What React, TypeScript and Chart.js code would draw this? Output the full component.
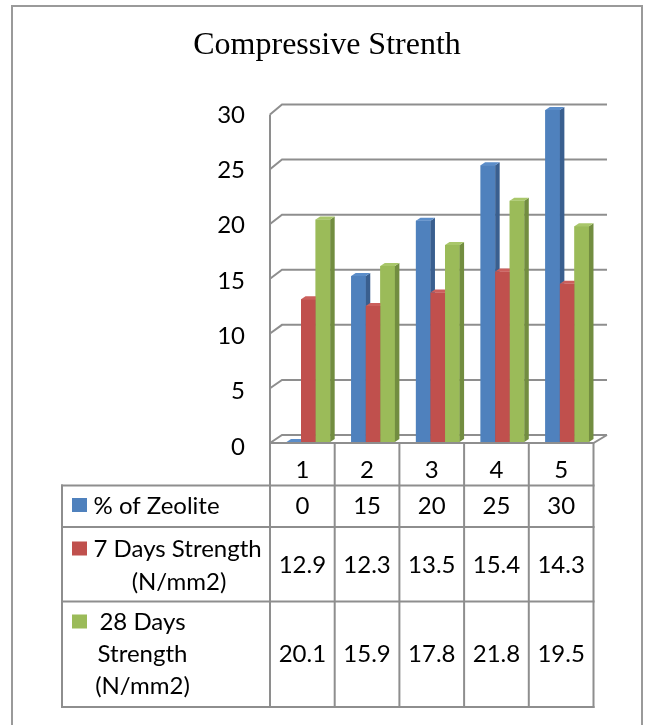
import React, { useEffect, useRef } from 'react';
import { Chart, registerables } from 'chart.js';

Chart.register(...registerables);

// ---- data ----
const chartTitle = 'Compressive Strenth';
const categories = ['1', '2', '3', '4', '5'];
const zeolitePercent = [0, 15, 20, 25, 30];
const strength7Days = [12.9, 12.3, 13.5, 15.4, 14.3];
const strength28Days = [20.1, 15.9, 17.8, 21.8, 19.5];
const seriesNames = ['% of Zeolite', '7 Days Strength (N/mm2)', '28 Days Strength (N/mm2)'];
const seriesDecimals = [0, 1, 1];
const rowLabelLines = [['% of Zeolite'], ['7 Days Strength', '(N/mm2)'], ['28 Days', 'Strength', '(N/mm2)']];
const yMin = 0;
const yMax = 30;
const yStep = 5;

// ---- styles ----
const FONT = 'Lato, "Open Sans", sans-serif';
const TITLE_FONT = '"Liberation Serif", "Times New Roman", serif';
const LINE = '#8e8e8e';
const FRONT = ['#4F81BD', '#C0504D', '#9BBB59'];
const SIDE = ['#3A5F8F', '#913B38', '#728D40'];
const TOP = ['#5B8DC9', '#CB5F5C', '#A9C76A'];
const DX = 4.5;
const DY = 3;

function line(ctx: CanvasRenderingContext2D, pts: number[][]) {
  ctx.beginPath();
  ctx.moveTo(pts[0][0], pts[0][1]);
  for (let i = 1; i < pts.length; i++) ctx.lineTo(pts[i][0], pts[i][1]);
  ctx.stroke();
}

function poly(ctx: CanvasRenderingContext2D, pts: number[][]) {
  ctx.beginPath();
  ctx.moveTo(pts[0][0], pts[0][1]);
  for (let i = 1; i < pts.length; i++) ctx.lineTo(pts[i][0], pts[i][1]);
  ctx.closePath();
  ctx.fill();
}

const columnChart3D = {
  id: 'columnChart3D',
  beforeDraw(chart: any) {
    const ctx: CanvasRenderingContext2D = chart.ctx;
    ctx.save();
    ctx.fillStyle = '#ffffff';
    ctx.fillRect(0, 0, chart.width, chart.height);
    // frame
    ctx.strokeStyle = '#9a9a9a';
    ctx.lineWidth = 2;
    ctx.strokeRect(12, 6, 630, 760);
    // title
    ctx.fillStyle = '#000';
    ctx.font = `32px ${TITLE_FONT}`;
    ctx.textAlign = 'center';
    ctx.textBaseline = 'alphabetic';
    ctx.fillText(chartTitle, 327, 54);
    ctx.restore();
  },
  beforeDatasetsDraw(chart: any) {
    // walls and floor
    const ctx: CanvasRenderingContext2D = chart.ctx;
    const ca = chart.chartArea;
    const ys = chart.scales.y;
    const w = (ca.right - ca.left) / categories.length;
    const back = (v: number) => ys.getPixelForValue(v) - 7 + 0.05 * v;
    const front = (v: number) => ys.getPixelForValue(v) + 1 + 0.12 * v;
    const fxL = ca.left - 6;
    const bxL = ca.left + 6;
    const bxR = ca.right + 7.5;
    const fxR = ca.left - 6 + categories.length * w;
    ctx.save();
    ctx.strokeStyle = LINE;
    ctx.lineWidth = 2;
    for (let v = yMin; v <= yMax; v += yStep) {
      line(ctx, [[fxL, front(v)], [bxL, back(v)], [bxR, back(v)]]);
    }
    line(ctx, [[fxL, front(yMax)], [fxL, front(yMin)]]);
    line(ctx, [[fxL, front(yMin)], [fxR, front(yMin)], [bxR, back(yMin)]]);
    ctx.restore();
  },
  afterDatasetsDraw(chart: any) {
    // bar faces, series by series so later fronts cover earlier sides
    const ctx: CanvasRenderingContext2D = chart.ctx;
    ctx.save();
    chart.data.datasets.forEach((_ds: any, di: number) => {
      const meta = chart.getDatasetMeta(di);
      meta.data.forEach((el: any) => {
        const { x, y, base, width } = el.getProps(['x', 'y', 'base', 'width'], true);
        const l = x - width / 2;
        const r = x + width / 2;
        const top = Math.min(y, base);
        const bot = Math.max(y, base);
        ctx.fillStyle = FRONT[di];
        ctx.fillRect(l, top, width, bot - top);
        ctx.fillStyle = SIDE[di];
        poly(ctx, [[r, top], [r + DX, top - DY], [r + DX, bot - DY], [r, bot]]);
        ctx.fillStyle = TOP[di];
        poly(ctx, [[l, top], [l + DX, top - DY], [r + DX, top - DY], [r, top]]);
      });
    });
    ctx.restore();
  },
  afterDraw(chart: any) {
    // data table
    const ctx: CanvasRenderingContext2D = chart.ctx;
    const ca = chart.chartArea;
    const ys = chart.scales.y;
    const n = categories.length;
    const w = (ca.right - ca.left) / n;
    const colX = Array.from({ length: n + 1 }, (_, i) => ca.left - 6 + i * w);
    const floorY = ys.getPixelForValue(yMin) + 1;
    const tableLeft = 62;
    const rowY = [485.5, 527, 601.5, 707];
    ctx.save();
    ctx.strokeStyle = LINE;
    ctx.lineWidth = 2;
    ctx.lineCap = 'square';
    colX.forEach((x) => line(ctx, [[x, floorY], [x, rowY[3]]]));
    line(ctx, [[tableLeft, rowY[0]], [tableLeft, rowY[3]]]);
    rowY.forEach((y) => line(ctx, [[tableLeft, y], [colX[n], y]]));

    const series = [zeolitePercent, strength7Days, strength28Days];
    const keyY = [498, 541.5, 614.5];
    const labelPos = [
      [{ x: 93.5, y: 513.5, align: 'left' }],
      [{ x: 93.5, y: 556.5, align: 'left' }, { x: 179, y: 589.5, align: 'center' }],
      [{ x: 142.5, y: 629.5, align: 'center' }, { x: 142.5, y: 661.5, align: 'center' }, { x: 142.5, y: 694, align: 'center' }],
    ];
    const valueY = [513.5, 572.5, 661.5];
    ctx.font = `24px ${FONT}`;
    ctx.textBaseline = 'alphabetic';
    series.forEach((vals, si) => {
      ctx.fillStyle = FRONT[si];
      ctx.fillRect(72, keyY[si], 15, 14);
      ctx.fillStyle = '#000';
      rowLabelLines[si].forEach((txt, li) => {
        const p = labelPos[si][li];
        ctx.textAlign = p.align as CanvasTextAlign;
        ctx.fillText(txt, p.x, p.y);
      });
      ctx.textAlign = 'center';
      vals.forEach((v, ci) => {
        ctx.fillText(v.toFixed(seriesDecimals[si]), (colX[ci] + colX[ci + 1]) / 2, valueY[si]);
      });
    });
    ctx.restore();
  },
};

export default function App() {
  const canvasRef = useRef<HTMLCanvasElement | null>(null);

  useEffect(() => {
    if (!canvasRef.current) return;
    const chart = new Chart(canvasRef.current, {
      type: 'bar',
      data: {
        labels: categories,
        datasets: [
          { label: seriesNames[0], data: zeolitePercent, backgroundColor: FRONT[0] },
          { label: seriesNames[1], data: strength7Days, backgroundColor: FRONT[1] },
          { label: seriesNames[2], data: strength28Days, backgroundColor: FRONT[2] },
        ],
      },
      options: {
        animation: false,
        responsive: false,
        maintainAspectRatio: false,
        devicePixelRatio: 1,
        layout: { padding: { top: 110, left: 0, right: 45.5, bottom: 0 } },
        datasets: { bar: { categoryPercentage: 0.675, barPercentage: 1, borderWidth: 0 } },
        plugins: { legend: { display: false }, tooltip: { enabled: false }, title: { display: false } },
        scales: {
          x: {
            grid: { display: false, drawTicks: false },
            border: { display: false },
            ticks: { font: { family: FONT, size: 24 }, color: '#000', padding: 14, labelOffset: -6, maxRotation: 0 },
            afterFit(axis: any) {
              axis.height = 283;
              axis.paddingLeft = 0;
              axis.paddingRight = 0;
            },
          },
          y: {
            min: yMin,
            max: yMax,
            grid: { display: false, drawTicks: false },
            border: { display: false },
            ticks: { stepSize: yStep, font: { family: FONT, size: 24 }, color: '#000', padding: 31, labelOffset: 5 },
            afterFit(axis: any) {
              axis.width = 276;
              axis.paddingTop = 0;
              axis.paddingBottom = 0;
            },
          },
        },
      },
      plugins: [columnChart3D],
    } as any);
    return () => chart.destroy();
  }, []);

  return (
    <canvas
      ref={canvasRef}
      width={645}
      height={725}
      style={{ position: 'absolute', left: 0, top: 0, display: 'block' }}
    />
  );
}
